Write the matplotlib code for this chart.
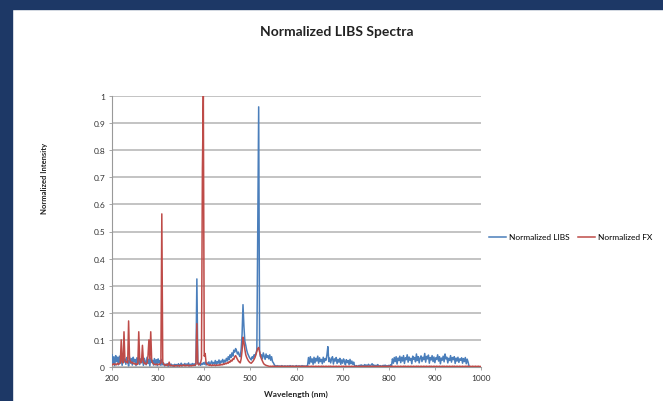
import numpy as np
import matplotlib.pyplot as plt
from matplotlib.patches import Rectangle

# wavelength grid (nm), 2 nm step from 200 to 1000
wavelength = np.arange(200, 1001, 2)

# Normalized LIBS, per mille
libs_pm = [
    45, 12, 38, 5, 42, 20, 36, 8, 40, 15,
    33, 6, 38, 18, 30, 10, 35, 22, 4, 37,
    14, 31, 7, 36, 19, 28, 5, 34, 12, 39,
    9, 30, 16, 35, 6, 32, 20, 8, 36, 13,
    29, 4, 33, 17, 25, 7, 31, 12, 27, 5,
    30, 15, 24, 6, 28, 8, 14, 4, 10, 6,
    12, 3, 9, 5, 11, 4, 8, 2, 10, 6,
    9, 3, 12, 5, 8, 14, 4, 10, 6, 13,
    5, 11, 7, 15, 4, 10, 6, 13, 8, 12,
    5, 16, 325, 20, 8, 14, 6, 12, 9, 16,
    10, 18, 7, 15, 11, 19, 8, 14, 22, 10,
    17, 12, 24, 9, 20, 14, 26, 11, 22, 18,
    28, 13, 25, 19, 32, 22, 38, 27, 45, 35,
    52, 40, 62, 55, 68, 60, 48, 55, 42, 38,
    65, 120, 230, 150, 95, 80, 62, 50, 42, 35,
    30, 26, 38, 32, 45, 40, 50, 62, 500, 960,
    60, 38, 45, 30, 52, 40, 28, 48, 35, 42,
    30, 45, 25, 38, 20, 15, 8, 4, 3, 5,
    2, 4, 3, 2, 5, 3, 2, 4, 3, 2,
    4, 3, 2, 5, 3, 2, 4, 3, 2, 3,
    5, 2, 3, 4, 2, 3, 5, 2, 4, 3,
    2, 4, 6, 35, 12, 38, 18, 30, 10, 36,
    15, 32, 22, 40, 14, 34, 20, 28, 12, 36,
    18, 31, 25, 45, 75, 20, 33, 15, 29, 38,
    11, 30, 22, 35, 13, 28, 18, 32, 10, 26,
    14, 30, 20, 8, 27, 16, 24, 9, 28, 12,
    22, 10, 18, 4, 3, 5, 2, 4, 6, 3,
    8, 4, 6, 3, 9, 5, 7, 4, 10, 6,
    4, 8, 12, 5, 7, 3, 6, 4, 9, 5,
    3, 5, 2, 4, 6, 3, 7, 4, 5, 3,
    6, 4, 8, 5, 30, 14, 35, 20, 38, 11,
    33, 24, 40, 16, 36, 22, 42, 13, 34, 27,
    45, 18, 37, 25, 32, 12, 40, 28, 35, 19,
    48, 24, 38, 15, 33, 41, 20, 36, 27, 50,
    18, 39, 30, 44, 14, 35, 26, 42, 20, 37,
    16, 34, 28, 45, 22, 38, 12, 33, 25, 40,
    19, 48, 30, 36, 15, 32, 24, 42, 18, 35,
    27, 38, 13, 33, 22, 36, 17, 30, 25, 34,
    14, 31, 20, 35, 12, 29, 18, 3, 0, 0,
    0, 0, 0, 0, 0, 0, 0, 0, 0, 0,
    0,
]

# Normalized FX, per mille
fx_pm = [
    10, 8, 12, 9, 11, 8, 14, 10, 12, 15,
    100, 20, 15, 130, 25, 18, 20, 15, 170, 30,
    20, 15, 18, 12, 14, 10, 12, 9, 11, 130,
    30, 15, 20, 80, 25, 12, 14, 10, 15, 40,
    100, 30, 130, 25, 15, 12, 10, 8, 11, 9,
    10, 8, 12, 15, 565, 20, 10, 8, 6, 10,
    5, 8, 18, 4, 6, 5, 4, 6, 3, 5,
    4, 6, 5, 3, 7, 4, 6, 5, 8, 4,
    6, 5, 7, 4, 6, 5, 4, 6, 5, 7,
    6, 10, 160, 12, 8, 10, 15, 30, 730, 1000,
    40, 50, 15, 10, 8, 7, 6, 8, 5, 7,
    6, 8, 5, 7, 6, 8, 6, 9, 7, 10,
    8, 12, 10, 14, 12, 16, 14, 20, 18, 25,
    22, 30, 28, 38, 42, 35, 28, 22, 18, 15,
    30, 60, 110, 90, 65, 45, 35, 28, 22, 18,
    15, 14, 18, 22, 28, 35, 45, 58, 68, 72,
    55, 40, 30, 22, 15, 10, 8, 6, 5, 4,
    3, 2, 3, 2, 3, 3, 2, 3, 2, 2,
    3, 2, 2, 3, 2, 3, 2, 2, 3, 2,
    2, 3, 2, 2, 3, 2, 3, 2, 2, 3,
    2, 2, 3, 2, 3, 2, 2, 3, 2, 2,
    3, 2, 2, 3, 2, 2, 3, 2, 3, 2,
    2, 3, 2, 2, 3, 2, 2, 3, 2, 3,
    2, 2, 3, 2, 2, 3, 2, 3, 2, 2,
    3, 2, 2, 3, 2, 2, 3, 2, 2, 3,
    2, 3, 2, 2, 3, 2, 2, 3, 2, 2,
    3, 2, 2, 3, 2, 3, 2, 2, 3, 2,
    2, 3, 2, 2, 3, 2, 2, 3, 2, 3,
    2, 2, 3, 2, 2, 3, 2, 2, 3, 2,
    3, 2, 2, 3, 2, 2, 3, 2, 2, 3,
    2, 3, 2, 2, 3, 2, 2, 3, 2, 2,
    3, 2, 2, 3, 2, 2, 3, 2, 3, 2,
    2, 3, 2, 2, 3, 2, 2, 3, 2, 2,
    3, 2, 3, 2, 2, 3, 2, 2, 3, 2,
    2, 3, 2, 2, 3, 2, 3, 2, 2, 3,
    2, 2, 3, 2, 2, 3, 2, 2, 3, 2,
    3, 2, 2, 3, 2, 2, 3, 2, 2, 3,
    2, 3, 2, 2, 3, 2, 2, 3, 2, 2,
    3, 2, 2, 3, 2, 3, 2, 2, 3, 2,
    2, 3, 2, 2, 3, 2, 2, 3, 2, 2,
    2,
]

libs = np.array(libs_pm) / 1000.0
fx = np.array(fx_pm) / 1000.0

x_ticks = [200, 300, 400, 500, 600, 700, 800, 900, 1000]
y_ticks = [0, 0.1, 0.2, 0.3, 0.4, 0.5, 0.6, 0.7, 0.8, 0.9, 1]
y_labels = ["0", "0.1", "0.2", "0.3", "0.4", "0.5", "0.6", "0.7", "0.8", "0.9", "1"]

BLUE = "#4a7ebb"
RED = "#be4b48"
NAVY = "#1d3866"
GRID = "#b3b3b3"

plt.rcParams["font.family"] = ["Lato", "DejaVu Sans"]

fig = plt.figure(figsize=(6.63, 4.02), dpi=100)
W, H = 663, 402

# navy frame on the left and top
fig.patches.append(Rectangle((0, 0), 12 / W, 1, transform=fig.transFigure,
                             color=NAVY, zorder=0))
fig.patches.append(Rectangle((0, 1 - 10 / H), 1, 10 / H, transform=fig.transFigure,
                             color=NAVY, zorder=0))

ax = fig.add_axes([112 / W, 1 - 368 / H, (481 - 112) / W, (368 - 97) / H])

ax.plot(wavelength, libs, color=BLUE, lw=1.1, label="Normalized LIBS", zorder=3)
ax.plot(wavelength, fx, color=RED, lw=1.1, label="Normalized FX", zorder=4)

ax.set_xlim(200, 1000)
ax.set_ylim(0, 1)
ax.set_xticks(x_ticks)
ax.set_yticks(y_ticks)
ax.set_yticklabels(y_labels)
ax.tick_params(labelsize=6, length=2.5, width=0.6, color="#999999", pad=2.5,
               labelcolor="#333333")

ax.grid(axis="y", color=GRID, lw=1.1)
ax.set_axisbelow(True)
for side in ["top", "right"]:
    ax.spines[side].set_visible(False)
for side in ["left", "bottom"]:
    ax.spines[side].set_color("#999999")
    ax.spines[side].set_linewidth(0.8)

fig.text(337 / W, 1 - 32 / H, "Normalized LIBS Spectra", ha="center", va="center",
         fontsize=10, fontweight="bold", color="#222222")
fig.text(296 / W, 1 - 394 / H, "Wavelength (nm)", ha="center", va="center",
         fontsize=6, fontweight="bold", color="#222222")
fig.text(44 / W, 1 - 178 / H, "Normalized Intensity", ha="center", va="center",
         rotation=90, fontsize=5.5, fontweight="bold", color="#222222")

ax.legend(loc="center left", bbox_to_anchor=(489 / W, 1 - 238 / H),
          bbox_transform=fig.transFigure, ncol=2, frameon=False, fontsize=6,
          handlelength=2.0, handletextpad=0.4, columnspacing=1.0, borderpad=0,
          borderaxespad=0)

fig.savefig("out.png", dpi=100)
